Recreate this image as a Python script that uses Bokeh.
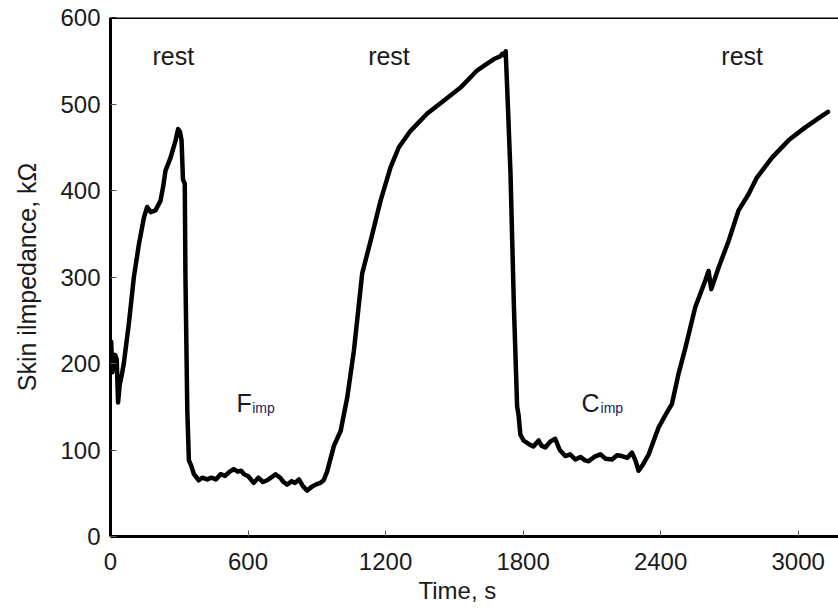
from bokeh.plotting import figure
from bokeh.models import Range1d, Label, Span, FixedTicker, Title
from bokeh.embed import file_html
from bokeh.resources import INLINE

time_s = [3, 8, 14, 20, 27, 33, 40, 48, 58, 80, 102, 124, 146, 160, 168, 175, 196, 218, 230, 240,
          262, 284, 295, 303, 310, 316, 324, 327, 335, 342, 352, 364, 385, 400, 422, 440, 460, 480,
          500, 520, 538, 555, 570, 582, 600, 625, 645, 665, 684, 700, 720, 740, 755, 771, 790, 805,
          822, 840, 858, 875, 895, 916, 930, 945, 975, 1004, 1033, 1062, 1098, 1135, 1178, 1222,
          1258, 1309, 1382, 1455, 1527, 1600, 1640, 1673, 1700, 1709, 1718, 1724, 1731, 1745, 1760,
          1774, 1780, 1788, 1802, 1824, 1845, 1868, 1880, 1897, 1920, 1940, 1960, 1984, 2005, 2028,
          2050, 2070, 2086, 2110, 2137, 2160, 2188, 2210, 2231, 2255, 2275, 2290, 2304, 2320, 2348,
          2391, 2420, 2449, 2478, 2508, 2551, 2595, 2609, 2621, 2653, 2697, 2740, 2784, 2820, 2886,
          2958, 3031, 3080, 3119, 3130]
impedance_kohm = [225, 190, 200, 210, 205, 155, 175, 185, 200, 246, 300, 338, 369, 381, 378, 375,
                  377, 388, 405, 423, 438, 458, 471, 468, 458, 413, 408, 300, 146, 88, 82, 72, 65,
                  68, 66, 68, 66, 72, 70, 75, 78, 75, 76, 72, 70, 62, 68, 63, 65, 68, 72, 68, 63, 60,
                  64, 62, 66, 58, 53, 57, 60, 62, 65, 75, 105, 122, 161, 215, 304, 342, 388, 427,
                  450, 469, 489, 504, 519, 539, 546, 552, 555, 558, 556, 561, 516, 420, 265, 150,
                  141, 118, 111, 107, 104, 111, 105, 103, 110, 113, 100, 93, 95, 89, 92, 88, 87, 92,
                  95, 90, 89, 94, 93, 91, 97, 88, 76, 82, 95, 126, 140, 153, 188, 218, 265, 296, 307,
                  286, 311, 342, 377, 396, 415, 438, 458, 473, 482, 489, 491]

x_ticks = [0, 600, 1200, 1800, 2400, 3000]
y_ticks = [0, 100, 200, 300, 400, 500, 600]

rest_labels = ["rest", "rest", "rest"]
rest_x = [183, 1124, 2665]
rest_y = 555
phase_main = ["F", "C"]
phase_sub = ["imp", "imp"]
phase_x = [550, 2055]
phase_sub_x = [618, 2138]
phase_y = 154
phase_sub_y = 148

FONT = "Liberation Sans"
TXT = "#1a1a1a"

p = figure(frame_width=728, frame_height=519, output_backend="svg", toolbar_location=None,
           x_range=Range1d(0, 3176), y_range=Range1d(0, 600),
           min_border_left=110, min_border_right=0, min_border_top=17, min_border_bottom=0)
p.outline_line_color = None
p.grid.visible = False
p.background_fill_color = "white"
p.border_fill_color = "white"

p.line(time_s, impedance_kohm, line_color="black", line_width=4.5, line_join="round", line_cap="round")

for ax in (p.xaxis[0], p.yaxis[0]):
    ax.axis_line_width = 3
    ax.axis_line_color = "black"
    ax.major_tick_in = 6
    ax.major_tick_out = 0
    ax.major_tick_line_color = "#555555"
    ax.major_tick_line_width = 1
    ax.minor_tick_line_color = None
    ax.major_label_text_font = FONT
    ax.major_label_text_font_size = "24px"
    ax.major_label_text_color = TXT
    ax.axis_label_text_font = FONT
    ax.axis_label_text_font_size = "25px"
    ax.axis_label_text_font_style = "normal"
    ax.axis_label_text_color = TXT

p.xaxis.ticker = FixedTicker(ticks=x_ticks)
p.yaxis.ticker = FixedTicker(ticks=y_ticks)
p.xaxis.major_label_standoff = 16
p.yaxis.major_label_standoff = 10
p.yaxis.axis_label = "Skin ilmpedance, kΩ"
p.yaxis.axis_label_standoff = 16
p.xaxis.axis_label = None

p.add_layout(Span(location=600, dimension="width", line_color="black", line_width=3))

xt = Title(text="Time, s", align="left", offset=308, text_font=FONT, text_font_size="24px",
           text_font_style="normal", text_color=TXT, standoff=4)
p.add_layout(xt, "below")

for t, x in zip(rest_labels, rest_x):
    p.add_layout(Label(x=x, y=rest_y, text=t, text_font=FONT, text_font_size="25px",
                       text_color=TXT, text_align="left", text_baseline="alphabetic"))
for m, s, x, xs in zip(phase_main, phase_sub, phase_x, phase_sub_x):
    p.add_layout(Label(x=x, y=phase_y, text=m, text_font=FONT, text_font_size="25px",
                       text_color=TXT, text_align="left", text_baseline="alphabetic"))
    p.add_layout(Label(x=xs, y=phase_sub_y, text=s, text_font=FONT, text_font_size="14px",
                       text_color="#22225a", text_align="left", text_baseline="alphabetic"))

open("out.html", "w").write(file_html(p, INLINE))
